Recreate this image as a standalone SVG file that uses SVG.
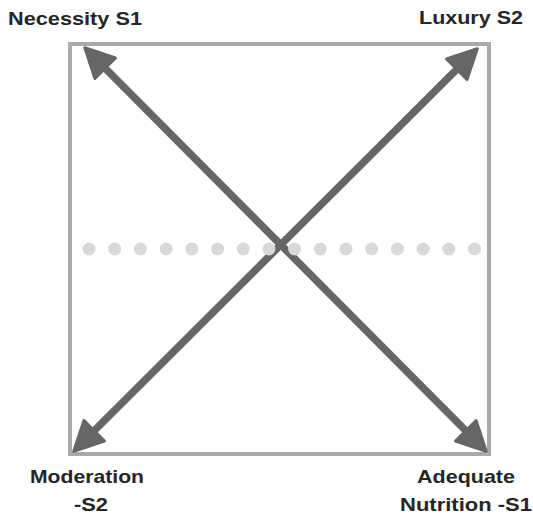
<svg xmlns="http://www.w3.org/2000/svg" width="533" height="520" viewBox="0 0 533 520">
<style>
.lbl{font-family:"Liberation Sans",Arial,sans-serif;font-weight:bold;font-size:19px;fill:#262626;}
.arr{stroke:#666;stroke-width:7.5;fill:none;}
.dot{fill:#d9d9d9;}
</style>
<defs>
<marker id="head" markerUnits="userSpaceOnUse" viewBox="-6 -20 40 40" markerWidth="40" markerHeight="40" refX="0" refY="0" orient="auto-start-reverse">
<path d="M-2,-14.5 L27,0 L-2,14.5 Z" fill="#666" stroke="#666" stroke-width="3" stroke-linejoin="round"/>
</marker>
</defs>
<rect x="70" y="44" width="419" height="410" fill="#fff" stroke="#aaa" stroke-width="4"/>
<g id="connectors">
<line class="arr" x1="103.8" y1="66.8" x2="467.2" y2="432.2" marker-start="url(#head)" marker-end="url(#head)"/>
<line class="arr" x1="458.2" y1="67.8" x2="92.8" y2="432.2" marker-start="url(#head)" marker-end="url(#head)"/>
</g>
<g id="dots">
<circle class="dot" cx="89" cy="249" r="6.5"/>
<circle class="dot" cx="114.7" cy="249" r="6.5"/>
<circle class="dot" cx="140.4" cy="249" r="6.5"/>
<circle class="dot" cx="166.1" cy="249" r="6.5"/>
<circle class="dot" cx="191.8" cy="249" r="6.5"/>
<circle class="dot" cx="217.5" cy="249" r="6.5"/>
<circle class="dot" cx="243.2" cy="249" r="6.5"/>
<circle class="dot" cx="268.9" cy="249" r="6.5"/>
<circle class="dot" cx="294.6" cy="249" r="6.5"/>
<circle class="dot" cx="320.3" cy="249" r="6.5"/>
<circle class="dot" cx="346" cy="249" r="6.5"/>
<circle class="dot" cx="371.7" cy="249" r="6.5"/>
<circle class="dot" cx="397.4" cy="249" r="6.5"/>
<circle class="dot" cx="423.1" cy="249" r="6.5"/>
<circle class="dot" cx="448.8" cy="249" r="6.5"/>
<circle class="dot" cx="474.5" cy="249" r="6.5"/>
</g>
<g id="necessity">
<text class="lbl" x="8" y="25" textLength="134" lengthAdjust="spacingAndGlyphs">Necessity S1</text>
</g>
<g id="luxury">
<text class="lbl" x="419" y="24" textLength="104" lengthAdjust="spacingAndGlyphs">Luxury S2</text>
</g>
<g id="moderation">
<text class="lbl" x="30" y="483" textLength="114" lengthAdjust="spacingAndGlyphs">Moderation</text>
<text class="lbl" x="74" y="511" textLength="34" lengthAdjust="spacingAndGlyphs">-S2</text>
</g>
<g id="adequate">
<text class="lbl" x="417" y="483" textLength="98" lengthAdjust="spacingAndGlyphs">Adequate</text>
<text class="lbl" x="400" y="511" textLength="132" lengthAdjust="spacingAndGlyphs">Nutrition -S1</text>
</g>
</svg>
